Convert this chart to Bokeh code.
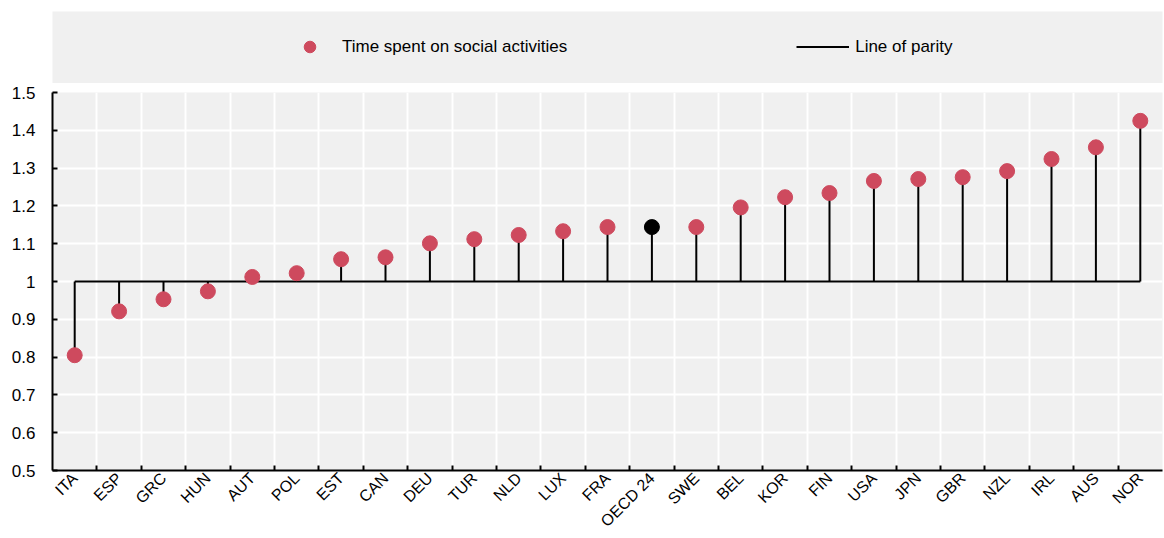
from bokeh.plotting import figure
from bokeh.models import ColumnDataSource, Range1d, FixedTicker, Legend, LegendItem
from bokeh.layouts import column
from bokeh.embed import file_html
from bokeh.resources import INLINE
from math import pi, nan

countries = ["ITA", "ESP", "GRC", "HUN", "AUT", "POL", "EST", "CAN", "DEU", "TUR",
             "NLD", "LUX", "FRA", "OECD 24", "SWE", "BEL", "KOR", "FIN", "USA", "JPN",
             "GBR", "NZL", "IRL", "AUS", "NOR"]
ratio = [0.805, 0.921, 0.953, 0.974, 1.012, 1.022, 1.059, 1.064, 1.101, 1.112,
         1.123, 1.133, 1.144, 1.144, 1.144, 1.196, 1.223, 1.234, 1.266, 1.271,
         1.276, 1.292, 1.324, 1.355, 1.425]
parity = 1.0
highlight = "OECD 24"
y_ticks = [0.5, 0.6, 0.7, 0.8, 0.9, 1.0, 1.1, 1.2, 1.3, 1.4, 1.5]
y_labels = ["0.5", "0.6", "0.7", "0.8", "0.9", "1", "1.1", "1.2", "1.3", "1.4", "1.5"]
series_label = "Time spent on social activities"
parity_label = "Line of parity"

RED = "#CE4A5E"
BG = "#F0F0F0"
FONT = "Liberation Sans"
FS = "17px"

n = len(countries)
idx = list(range(n))
src = ColumnDataSource(dict(
    x=idx, y=ratio, base=[parity] * n,
    color=["black" if c == highlight else RED for c in countries],
))

# ---- legend panel ----
lf = figure(width=1164, height=83, x_range=Range1d(0, 1), y_range=Range1d(0, 1),
            x_axis_location=None, y_axis_location=None,
            output_backend="svg", toolbar_location=None,
            min_border_left=46, min_border_right=0, min_border_top=11, min_border_bottom=0,
            background_fill_color=BG, border_fill_color="white", outline_line_color=None)
lf.grid.visible = False
# legend-only renderers (no visible data points)
r1 = lf.scatter(x=[nan], y=[nan], size=15, color=RED)
r2 = lf.line(x=[nan], y=[nan], line_color="black", line_width=2)
leg = Legend(items=[LegendItem(label=series_label, renderers=[r1]),
                    LegendItem(label=parity_label, renderers=[r2])],
             orientation="horizontal", location=(231, 22),
             glyph_width=53, glyph_height=29, label_standoff=6, spacing=229,
             padding=0, margin=0, background_fill_alpha=0, border_line_color=None,
             label_text_font=FONT, label_text_font_size=FS, label_text_color="black")
lf.add_layout(leg)

# ---- main chart ----
p = figure(width=1164, height=455,
           x_range=Range1d(-0.5, n - 0.5), y_range=Range1d(y_ticks[0], y_ticks[-1]),
           output_backend="svg", toolbar_location=None,
           min_border_left=52, min_border_right=2, min_border_top=9, min_border_bottom=20,
           background_fill_color=BG, border_fill_color="white", outline_line_color=None)

p.line(x=[idx[0], idx[-1]], y=[parity, parity], line_color="black", line_width=2)
p.segment(x0="x", y0="base", x1="x", y1="y", source=src, line_color="black", line_width=2)
p.scatter(x="x", y="y", size=15, color="color", source=src)

xt = FixedTicker(ticks=idx, minor_ticks=[i + 0.5 for i in idx[:-1]])
p.xaxis.ticker = xt
p.xgrid.ticker = xt
p.xaxis.major_label_overrides = {i: c for i, c in enumerate(countries)}
p.xaxis.major_tick_in = 0
p.xaxis.major_tick_out = 0
p.xaxis.minor_tick_in = 5
p.xaxis.minor_tick_out = 0
p.xaxis.minor_tick_line_color = "black"
p.xaxis.minor_tick_line_width = 2
p.xaxis.major_label_orientation = pi / 4
p.xaxis.major_label_standoff = 5
p.xgrid.grid_line_color = None
p.xgrid.minor_grid_line_color = "white"
p.xgrid.minor_grid_line_width = 2

yt = FixedTicker(ticks=y_ticks, minor_ticks=[])
p.yaxis.ticker = yt
p.ygrid.ticker = yt
p.yaxis.major_label_overrides = {t: l for t, l in zip(y_ticks, y_labels)}
p.yaxis.major_tick_in = 5
p.yaxis.major_tick_out = 0
p.yaxis.minor_tick_line_color = None
p.yaxis.major_label_standoff = 17
p.ygrid.grid_line_color = "white"
p.ygrid.grid_line_width = 2

for ax in (p.xaxis, p.yaxis):
    ax.axis_line_color = "black"
    ax.axis_line_width = 2
    ax.major_tick_line_color = "black"
    ax.major_tick_line_width = 2
    ax.major_label_text_font = FONT
    ax.major_label_text_color = "black"
p.yaxis.major_label_text_font_size = FS
p.xaxis.major_label_text_font_size = "16px"

layout = column(lf, p, spacing=0)
open("out.html", "w").write(file_html(layout, INLINE))
